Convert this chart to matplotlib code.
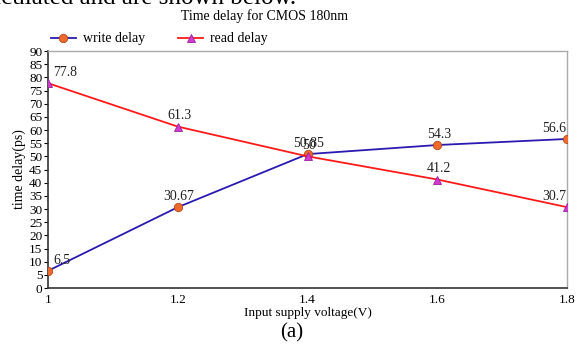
import matplotlib
matplotlib.use("Agg")
import matplotlib.pyplot as plt

plt.rcParams['font.family'] = ['Liberation Serif', 'DejaVu Serif']

# datos
voltage = [1.0, 1.2, 1.4, 1.6, 1.8]
write_delay = [6.5, 30.67, 50.85, 54.3, 56.6]
read_delay = [77.8, 61.3, 50, 41.2, 30.7]
write_labels = ['6.5', '30.67', '50.85', '54.3', '56.6']
read_labels = ['77.8', '61.3', '50', '41.2', '30.7']

fig = plt.figure(figsize=(5.77, 3.47), dpi=100)
ax = fig.add_axes([0.083, 0.170, 0.900, 0.683])

ax.plot(voltage, write_delay, color='#2a1ab0', lw=1.3, marker='o', ms=6,
        mfc='#ee6a2c', mec='#b5471a', mew=0.6, label='write delay', zorder=3)
ax.plot(voltage, read_delay, color='#ff1a1a', lw=1.3, marker='^', ms=6,
        mfc='#d23ad2', mec='#9a1f9a', mew=0.6, label='read delay', zorder=3)

def etiquetas(xs, ys, textos):
    for x, y, t in zip(xs, ys, textos):
        if x == voltage[0]:
            ha, dx = 'left', 4
        elif x == voltage[-1]:
            ha, dx = 'right', -1
        else:
            ha, dx = 'center', 1
        ax.annotate(t, (x, y), xytext=(dx, 3), textcoords='offset points',
                    ha=ha, va='bottom', fontsize=10, color='#222222', zorder=4)

etiquetas(voltage, write_delay, write_labels)
etiquetas(voltage, read_delay, read_labels)

ax.set_xlim(1.0, 1.8)
ax.set_ylim(0, 90)
ax.set_xticks(voltage)
ax.set_xticklabels(['1', '1.2', '1.4', '1.6', '1.8'])
ax.set_yticks(range(0, 91, 5))
ax.tick_params(axis='both', labelsize=9.5, length=3, width=0.8, pad=1)
ax.tick_params(axis='x', length=0, pad=4)

for lado in ['top', 'right']:
    ax.spines[lado].set_color('#aaaaaa')
    ax.spines[lado].set_linewidth(1.0)
for lado in ['left', 'bottom']:
    ax.spines[lado].set_color('#333333')
    ax.spines[lado].set_linewidth(1.2)

ax.set_xlabel('Input supply voltage(V)', fontsize=9.5, labelpad=1)
ax.set_ylabel('time delay(ps)', fontsize=10, labelpad=2)

fig.text(0.458, 0.953, 'Time delay for CMOS 180nm', ha='center', va='center',
         fontsize=10)
ax.legend(loc='lower left', bbox_to_anchor=(-0.005, 1.0), ncol=2, frameon=False,
          fontsize=10, handlelength=1.8, handletextpad=0.5, columnspacing=2.4,
          borderaxespad=0.0)

# texto del documento alrededor de la figura
fig.text(0.513, 0.988, 'calculated and are shown below.', ha='right',
         va='baseline', fontsize=18)
fig.text(0.505, 0.042, '(a)', ha='center', va='center', fontsize=15)

fig.savefig('out.png', dpi=100, facecolor='white')
